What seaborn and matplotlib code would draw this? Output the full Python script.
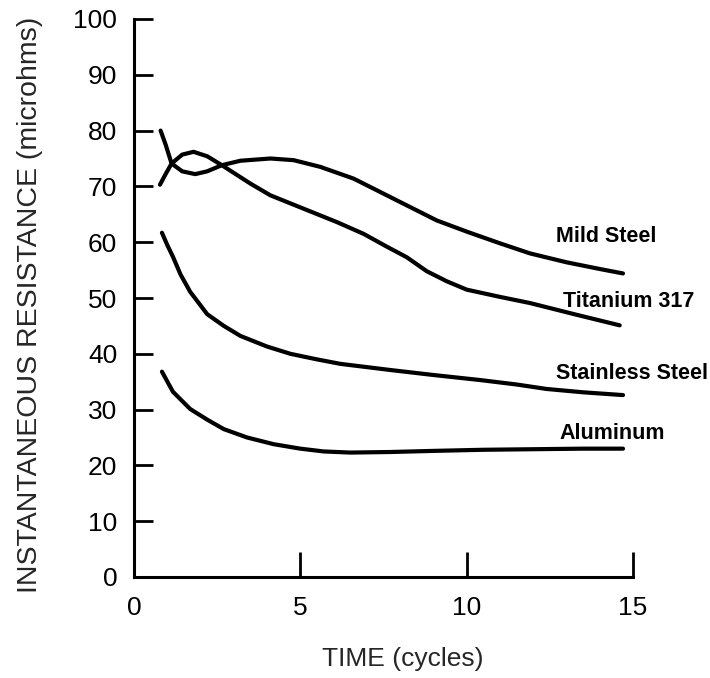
import matplotlib
matplotlib.use("Agg")
import matplotlib.pyplot as plt
import seaborn as sns
import pandas as pd

# ---- data ----
mild_x = [0.8, 0.95, 1.13, 1.45, 1.84, 2.2, 2.64, 3.2, 4.1, 4.8, 5.6, 6.6, 7.4, 8.2, 9.1, 10.0, 11.0, 11.9, 13.0, 14.0, 14.7]
mild_y = [80.0, 77.5, 74.1, 72.7, 72.2, 72.7, 73.8, 74.6, 75.0, 74.7, 73.5, 71.4, 69.0, 66.6, 63.9, 61.9, 59.8, 58.0, 56.4, 55.2, 54.4]

ti_x = [0.78, 0.95, 1.13, 1.45, 1.79, 2.2, 2.64, 3.5, 4.1, 5.1, 6.1, 6.9, 7.6, 8.2, 8.8, 9.4, 10.0, 11.0, 11.9, 13.3, 14.6]
ti_y = [70.3, 72.2, 74.1, 75.7, 76.2, 75.4, 73.8, 70.5, 68.4, 66.0, 63.6, 61.5, 59.2, 57.3, 54.8, 53.0, 51.5, 50.2, 49.1, 47.0, 45.1]

ss_x = [0.84, 1.0, 1.17, 1.4, 1.69, 2.2, 2.7, 3.2, 4.0, 4.7, 5.5, 6.2, 7.7, 9.0, 10.4, 11.5, 12.4, 13.5, 14.7]
ss_y = [61.7, 59.5, 57.4, 54.2, 51.1, 47.1, 45.0, 43.2, 41.3, 40.0, 39.0, 38.2, 37.1, 36.2, 35.3, 34.5, 33.7, 33.1, 32.6]

al_x = [0.84, 1.17, 1.69, 2.2, 2.7, 3.4, 4.2, 5.0, 5.7, 6.5, 7.7, 9.0, 10.5, 12.0, 13.5, 14.7]
al_y = [36.8, 33.2, 30.1, 28.2, 26.5, 25.0, 23.8, 23.0, 22.5, 22.3, 22.4, 22.6, 22.8, 22.9, 23.0, 23.0]

series_names = ["Mild Steel", "Titanium 317", "Stainless Steel", "Aluminum"]
label_x = [12.7, 12.9, 12.7, 12.8]
label_y = [60.0, 48.4, 35.5, 24.7]

x_ticks = [0, 5, 10, 15]
y_ticks = [0, 10, 20, 30, 40, 50, 60, 70, 80, 90, 100]

frames = []
for name, xs, ys in zip(series_names, [mild_x, ti_x, ss_x, al_x], [mild_y, ti_y, ss_y, al_y]):
    frames.append(pd.DataFrame({"time": xs, "res": ys, "metal": name}))
df = pd.concat(frames, ignore_index=True)

sns.set_style("white")
plt.rcParams['font.family'] = ['Liberation Sans', 'DejaVu Sans']

fig = plt.figure(figsize=(7.1, 6.78), dpi=100)
ax = fig.add_axes([134 / 710, 1 - 577 / 678, (633 - 134) / 710, (577 - 19) / 678])

sns.lineplot(data=df, x="time", y="res", hue="metal", units="metal", estimator=None,
             palette={n: "black" for n in series_names}, linewidth=3.0, legend=False,
             sort=False, ax=ax)

for name, lx, ly in zip(series_names, label_x, label_y):
    ax.text(lx, ly, name, fontsize=15.5, fontweight="bold", ha="left", va="baseline",
            color="black", clip_on=False)

ax.set_xlim(0, 15)
ax.set_ylim(0, 100)
ax.set_xticks(x_ticks)
ax.set_yticks(y_ticks)
ax.set_xticklabels([str(v) for v in x_ticks], fontsize=19)
ax.set_yticklabels([str(v) for v in y_ticks], fontsize=19)
ax.tick_params(axis="x", bottom=True, direction="in", length=18, width=2.0, pad=14, colors="black")
ax.tick_params(axis="y", left=True, direction="in", length=14, width=2.0, pad=12, colors="black")
ax.xaxis.get_major_ticks()[0].tick1line.set_visible(False)
ax.set_xlabel("")
ax.set_ylabel("")

for s in ["top", "right"]:
    ax.spines[s].set_visible(False)
for s in ["left", "bottom"]:
    ax.spines[s].set_linewidth(2.2)
    ax.spines[s].set_color("black")

fig.text(30 / 710, 1 - 305 / 678, "INSTANTANEOUS RESISTANCE (microhms)", rotation=90,
         ha="center", va="center", fontsize=20.5)
fig.text(403 / 710, 1 - 659 / 678, "TIME (cycles)", ha="center", va="center", fontsize=19)

fig.savefig("out.png", dpi=100)
